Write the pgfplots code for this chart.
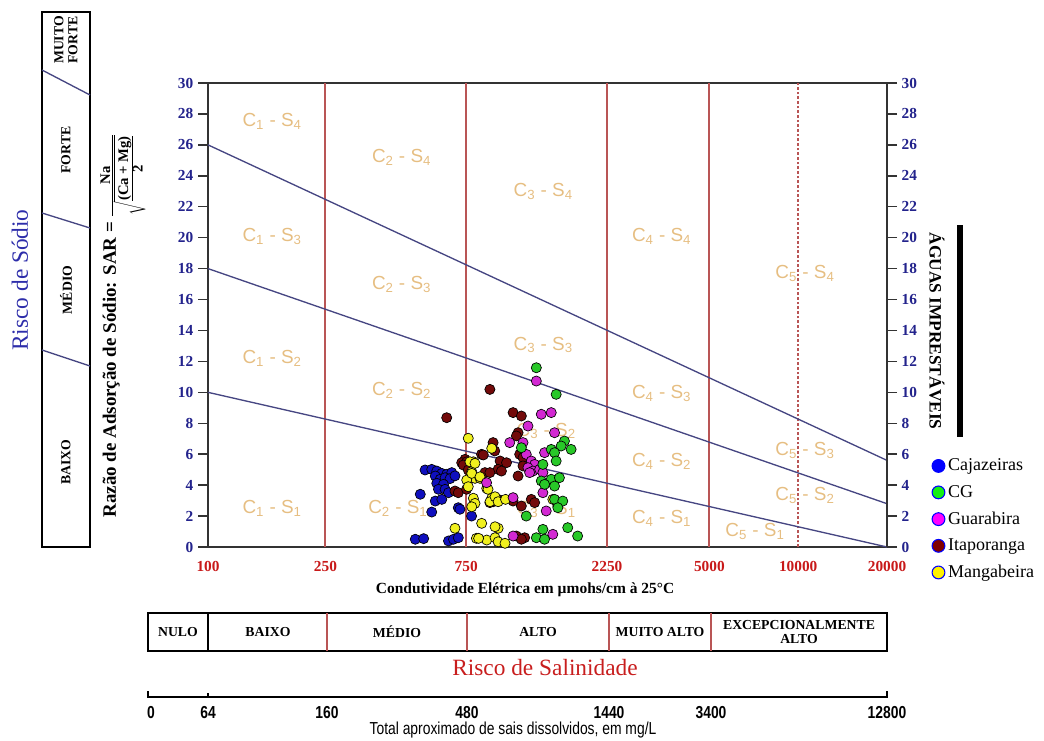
\documentclass[border=0pt]{standalone}
\usepackage{pgfplots}
\pgfplotsset{compat=1.18}
\usepackage{fontspec}
\setmainfont{Liberation Serif}
\newfontfamily\lsans{Liberation Sans}
\definecolor{tickblue}{RGB}{35,35,140}
\definecolor{tickred}{RGB}{200,25,25}
\definecolor{vline}{RGB}{185,85,85}
\definecolor{sline}{RGB}{70,70,130}
\definecolor{tanlbl}{RGB}{230,190,130}
\definecolor{sodioblue}{RGB}{45,45,170}
\definecolor{salred}{RGB}{200,30,30}
\definecolor{cajB}{RGB}{15,15,190}
\definecolor{cgG}{RGB}{40,200,40}
\definecolor{guaM}{RGB}{210,40,210}
\definecolor{itaR}{RGB}{115,10,10}
\definecolor{manY}{RGB}{240,240,30}
\newcommand{\CS}[2]{C\textsubscript{#1} - S\textsubscript{#2}}
\begin{document}
\begin{tikzpicture}
\begin{axis}[
  at={(156pt,144.75pt)}, anchor=south west,
  scale only axis, width=509.25pt, height=348pt,
  xmode=log, xmin=100, xmax=20000, ymin=0, ymax=30,
  clip=false,
  axis line style={line width=1.1pt, black!80},
  xtick={100,250,750,2250,5000,10000,20000},
  xticklabels={100,250,750,2250,5000,10000,20000},
  minor xtick={},
  x tick style={draw=none},
  xtick pos=bottom, ytick pos=left,
  ytick={0,2,...,30},
  tick align=outside,
  major tick length=7.5pt,
  y tick style={line width=1.1pt, black!80},
  /pgf/number format/assume math mode=true,
  xticklabel style={font=\bfseries\fontsize{11.5}{12}\selectfont, text=tickred},
  yticklabel style={font=\bfseries\fontsize{11.5}{12}\selectfont, text=tickblue},
  xlabel={\bfseries Condutividade Elétrica em µmohs/cm à 25°C},
  xlabel style={at={(axis description cs:0.467,-0.093)}, anchor=center, font=\fontsize{11.6}{12}\selectfont},
  ylabel={\bfseries Razão de Adsorção de Sódio: SAR = {\fontsize{11}{12}\selectfont$\frac{\textbf{Na}}{\sqrt{\frac{\textbf{(Ca + Mg)}}{\textbf{2}}}}$}},
  ylabel style={at={(axis description cs:-0.125,0.478)}, anchor=center, font=\fontsize{14.2}{15}\selectfont},
  legend style={at={(axis description cs:1.066,0.196)}, anchor=north west, draw=none, fill=none,
    font=\fontsize{13.5}{14}\selectfont, row sep=5.4pt, inner sep=0pt,
    nodes={inner xsep=2.5pt}},
  legend cell align=left,
]
% vertical class limits
\addplot[vline, line width=1.5pt, forget plot] coordinates {(250,0) (250,30)};
\addplot[vline, line width=1.5pt, forget plot] coordinates {(750,0) (750,30)};
\addplot[vline, line width=1.5pt, forget plot] coordinates {(2250,0) (2250,30)};
\addplot[vline, line width=1.5pt, forget plot] coordinates {(5000,0) (5000,30)};
\addplot[vline, line width=1.2pt, dash pattern=on 2pt off 1.5pt, forget plot] coordinates {(10000,0) (10000,30)};
% sodium hazard limits
\addplot[sline, line width=1pt, forget plot] coordinates {(100,10) (20000,0)};
\addplot[sline, line width=1pt, forget plot] coordinates {(100,18) (20000,2.8)};
\addplot[sline, line width=1pt, forget plot] coordinates {(100,26) (20000,5.6)};
% class labels
\begin{scope}[every node/.style={text=tanlbl, font=\lsans\fontsize{14.2}{15}\selectfont}]
\node at (axis cs:165,27.5) {\CS{1}{4}};
\node at (axis cs:165,20.06) {\CS{1}{3}};
\node at (axis cs:165,12.2) {\CS{1}{2}};
\node at (axis cs:165,2.5) {\CS{1}{1}};
\node at (axis cs:453,25.2) {\CS{2}{4}};
\node at (axis cs:453,17.0) {\CS{2}{3}};
\node at (axis cs:453,10.15) {\CS{2}{2}};
\node at (axis cs:440,2.5) {\CS{2}{1}};
\node at (axis cs:1368,23.0) {\CS{3}{4}};
\node at (axis cs:1368,13.06) {\CS{3}{3}};
\node at (axis cs:1400,7.5) {\CS{3}{2}};
\node at (axis cs:1400,2.4) {\CS{3}{1}};
\node at (axis cs:3446,20.06) {\CS{4}{4}};
\node at (axis cs:3446,9.93) {\CS{4}{3}};
\node at (axis cs:3446,5.51) {\CS{4}{2}};
\node at (axis cs:3446,1.85) {\CS{4}{1}};
\node at (axis cs:10545,17.7) {\CS{5}{4}};
\node at (axis cs:10545,6.27) {\CS{5}{3}};
\node at (axis cs:10545,3.36) {\CS{5}{2}};
\node at (axis cs:7140,0.99) {\CS{5}{1}};
\end{scope}
% legend images
\addlegendimage{only marks, mark=*, mark size=4.8pt, mark options={draw=blue, fill=blue, line width=0.8pt}}
\addlegendentry{Cajazeiras}
\addlegendimage{only marks, mark=*, mark size=4.8pt, mark options={draw=blue, fill={rgb,255:red,20;green,240;blue,20}, line width=0.8pt}}
\addlegendentry{CG}
\addlegendimage{only marks, mark=*, mark size=4.8pt, mark options={draw=blue, fill={rgb,255:red,255;green,0;blue,255}, line width=0.8pt}}
\addlegendentry{Guarabira}
\addlegendimage{only marks, mark=*, mark size=4.8pt, mark options={draw=blue, fill={rgb,255:red,128;green,0;blue,0}, line width=0.8pt}}
\addlegendentry{Itaporanga}
\addlegendimage{only marks, mark=*, mark size=4.8pt, mark options={draw=blue, fill=yellow, line width=0.8pt}}
\addlegendentry{Mangabeira}
% data: Cajazeiras
\addplot[only marks, mark=*, mark size=3.8pt, mark options={draw=black, line width=0.5pt, fill=cajB}, forget plot] coordinates {
(524,3.41)(544,4.98)(573,5.02)(596,4.91)(620,4.76)(644,4.70)(670,4.81)(589,4.59)(612,4.38)(636,4.48)(661,4.42)(687,4.60)
(596,4.12)(628,4.05)(604,3.73)(636,3.73)(653,3.51)(589,2.97)(620,3.08)(573,2.26)(705,2.54)(714,2.44)(782,2.00)
(504,0.50)(538,0.54)(653,0.39)(679,0.50)(705,0.60)};
% Itaporanga
\addplot[only marks, mark=*, mark size=3.8pt, mark options={draw=black, line width=0.5pt, fill=itaR}, forget plot] coordinates {
(644,8.36)(902,10.19)(1081,8.69)(1153,8.47)(1124,7.39)(1109,7.18)(925,6.75)(937,6.21)(743,5.67)(724,5.45)(845,5.99)
(977,5.56)(1027,5.45)(962,5.02)(987,4.91)(868,4.81)(902,4.81)(1138,5.99)(1168,5.78)(1124,4.59)(1168,5.24)
(687,3.62)(705,3.51)(752,3.73)(753,5.51)(733,5.30)(762,4.98)(762,4.33)(857,5.95)(926,2.93)
(1081,2.97)(1153,2.65)(1246,3.08)(1279,2.87)(902,2.87)(962,3.08)(1109,0.71)(1183,0.60)(1153,0.50)};
% Mangabeira
\addplot[only marks, mark=*, mark size=3.8pt, mark options={draw=black, line width=0.5pt, fill=manY}, forget plot] coordinates {
(762,7.03)(915,6.38)(793,5.51)(783,4.87)(803,4.44)(753,4.33)(762,3.90)(835,4.44)(880,3.79)(915,3.15)(952,3.04)
(903,2.93)(793,3.15)(803,2.82)(783,2.60)(846,1.53)(687,1.21)(812,0.56)(880,0.45)(939,0.60)(962,0.34)(962,1.21)
(939,1.31)(1015,0.24)(826,0.56)(772,5.51)(803,5.41)(783,4.76)(835,4.54)(889,3.73)(939,3.25)(962,2.93)(1019,3.08)
(1474,3.08)(1533,2.65)};
% Guarabira
\addplot[only marks, mark=*, mark size=3.8pt, mark options={draw=black, line width=0.5pt, fill=guaM}, forget plot] coordinates {
(1296,10.73)(1347,8.58)(1456,8.69)(1214,7.82)(1494,7.39)(1053,6.75)(1168,6.75)(1382,6.10)(1198,5.99)(1246,5.56)
(1279,5.34)(1214,5.13)(1262,4.91)(1330,5.02)(1364,4.81)(1230,4.81)(1364,3.51)(1400,2.33)(1081,3.19)(879,4.16)
(1081,0.71)(1474,0.82)};
% CG
\addplot[only marks, mark=*, mark size=3.8pt, mark options={draw=black, line width=0.5pt, fill=cgG}, forget plot] coordinates {
(1296,11.59)(1513,9.87)(1614,6.85)(1573,6.53)(1700,6.31)(1456,6.31)(1494,6.10)(1513,5.56)(1347,4.27)(1456,4.38)
(1552,4.48)(1382,4.05)(1494,3.94)(1153,6.42)(1364,5.34)(1494,3.08)(1593,2.97)(1533,2.54)(1198,2.00)(1364,1.14)
(1296,0.60)(1382,0.50)(1656,1.25)(1789,0.71)};
\end{axis}
% right-hand SAR scale
\begin{axis}[
  at={(156pt,144.75pt)}, anchor=south west,
  scale only axis, width=509.25pt, height=348pt,
  xmode=log, xmin=100, xmax=20000, ymin=0, ymax=30,
  axis x line=none, axis y line*=right,
  axis line style={line width=1.1pt, black!80},
  ytick={0,2,...,30}, tick align=outside, major tick length=7.5pt,
  y tick style={line width=1.1pt, black!80},
  /pgf/number format/assume math mode=true,
  yticklabel style={font=\bfseries\fontsize{11.5}{12}\selectfont, text=tickblue},
]
\addplot[draw=none, forget plot] coordinates {(100,0)};
\end{axis}
\begin{scope}[shift={(0pt,555pt)}, x=0.75pt, y=-0.75pt]
% left sodium hazard panel
\draw[line width=1.5pt] (42,12) rectangle (90,547);
\draw[sline, line width=1pt] (42,70) -- (90,95);
\draw[sline, line width=1pt] (42,213) -- (90,228);
\draw[sline, line width=1pt] (42,350) -- (90,366);
\begin{scope}[every node/.style={rotate=90, font=\bfseries\fontsize{10.3}{10.5}\selectfont, align=center}]
\node at (66,40) {MUITO\\FORTE};
\node at (66,150) {FORTE};
\node at (66,290) {MÉDIO};
\node at (66,462) {BAIXO};
\end{scope}
\node[rotate=90, text=sodioblue, font=\fontsize{17.5}{18}\selectfont] at (20,280) {Risco de Sódio};
% unusable waters
\node[rotate=-90, font=\bfseries\fontsize{13}{14}\selectfont] at (937,331) {ÁGUAS IMPRESTÁVEIS};
\fill (957,225) rectangle (963,437);
% salinity hazard box
\draw[line width=1.5pt] (148,613) rectangle (887,651);
\draw[line width=1pt] (208,613) -- (208,651);
\foreach \x in {327,467,609,711} {\draw[vline, line width=1.1pt] (\x,613) -- (\x,651);}
\begin{scope}[every node/.style={font=\bfseries\fontsize{10.3}{10}\selectfont, align=center}]
\node at (178,632) {NULO};
\node at (268,632) {BAIXO};
\node at (397,632) {MÉDIO};
\node at (538,632) {ALTO};
\node at (660,632) {MUITO ALTO};
\node at (799,632) {EXCEPCIONALMENTE\\ALTO};
\end{scope}
\node[text=salred, font=\fontsize{17.5}{18}\selectfont] at (545,668) {Risco de Salinidade};
% total dissolved solids scale
\draw[line width=1pt] (148,697) -- (887,697);
\draw[line width=1pt] (148,691) -- (148,698);
\draw[line width=1pt] (887,691) -- (887,698);
\draw[line width=0.8pt] (208,693) -- (208,697);
\begin{scope}[every node/.style={font=\lsans\bfseries\fontsize{13}{13}\selectfont}]
\node at (151,713) {\scalebox{0.8}[1]{0}};
\node at (208,713) {\scalebox{0.8}[1]{64}};
\node at (327,713) {\scalebox{0.8}[1]{160}};
\node at (467,713) {\scalebox{0.8}[1]{480}};
\node at (609,713) {\scalebox{0.8}[1]{1440}};
\node at (711,713) {\scalebox{0.8}[1]{3400}};
\node at (887,713) {\scalebox{0.8}[1]{12800}};
\end{scope}
\node[font=\lsans\fontsize{13}{13}\selectfont] at (513,730) {\scalebox{0.8}[1]{Total aproximado de sais dissolvidos, em mg/L}};
\end{scope}
\pgfresetboundingbox
\path[use as bounding box] (0,0) rectangle (783pt,555pt);
\end{tikzpicture}
\end{document}
